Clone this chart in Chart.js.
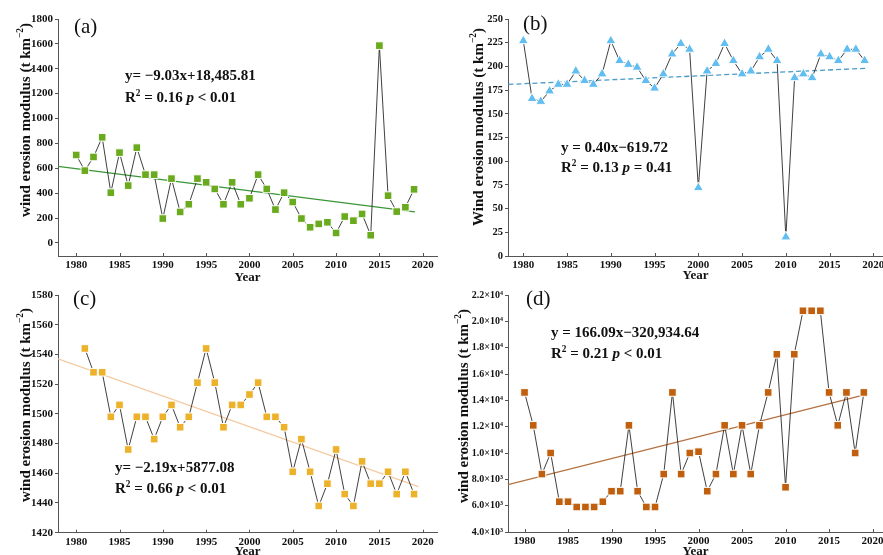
<!DOCTYPE html>
<html>
<head>
<meta charset="utf-8">
<script src="https://cdn.jsdelivr.net/npm/chart.js@4.4.1/dist/chart.umd.min.js"></script>
<style>
  body { margin: 0; background: #fff; width: 883px; height: 555px; position: relative; overflow: hidden; }
  canvas { position: absolute; }
</style>
</head>
<body>
<canvas id="chart-a" width="440" height="285" style="left:0;top:0"></canvas>
<canvas id="chart-b" width="443" height="285" style="left:440px;top:0"></canvas>
<canvas id="chart-c" width="440" height="270" style="left:0;top:285px"></canvas>
<canvas id="chart-d" width="443" height="270" style="left:440px;top:285px"></canvas>
<script>
// Years 1980 - 2019
const years = [1980,1981,1982,1983,1984,1985,1986,1987,1988,1989,
               1990,1991,1992,1993,1994,1995,1996,1997,1998,1999,
               2000,2001,2002,2003,2004,2005,2006,2007,2008,2009,
               2010,2011,2012,2013,2014,2015,2016,2017,2018,2019];

// wind erosion modulus (t km-2)
const erosionA = [707,581,691,849,404,726,461,766,549,549,
                  196,517,249,311,517,487,434,311,487,311,
                  359,549,434,268,404,329,196,126,153,166,
                  80,212,179,233,62,1586,380,252,287,431];
const erosionB = [227,166,163,174,181,181,195,185,181,192,
                  227,206,202,199,185,177,192,213,224,218,
                  72,195,203,224,206,192,195,210,218,206,
                  20,188,192,188,213,210,206,218,218,206];
const erosionC = [null,1544,1528,1528,1498,1506,1476,1498,1498,1483,
                  1498,1506,1491,1498,1521,1544,1521,1491,1506,1506,
                  1513,1521,1498,1498,1491,1461,1483,1461,1438,1453,
                  1476,1446,1438,1468,1453,1453,1461,1446,1461,1446];
const erosionD = [14600,12100,8400,10000,6300,6300,5900,5900,5900,6300,
                  7100,7100,12100,7100,5900,5900,8400,14600,8400,10000,
                  10100,7100,8400,12100,8400,12100,8400,12100,14600,17500,
                  7400,17500,20800,20800,20800,14600,12100,14600,10000,14600];

// fitted trend lines (start / end points as drawn)
const trendA = [[1977.9, 616], [2019.1, 249]];
const trendB = [[1978.3, 181], [2019.1, 198]];
const trendC = [[1977.9, 1537], [2019.5, 1451]];
const trendD = [[1978.1, 7590], [2019.4, 14470]];

const serif = '"Liberation Serif", "Times New Roman", serif';

// draw a run of text pieces (superscript / italic) starting at x on a baseline
function drawRuns(ctx, runs, x, base, size) {
  runs.forEach(r => {
    const s = r.sup ? size * 0.62 : size;
    ctx.font = (r.it ? 'italic ' : '') + 'bold ' + s + 'px ' + serif;
    ctx.fillText(r.t, x, r.sup ? base - size * 0.42 : base);
    x += ctx.measureText(r.t).width;
  });
  return x;
}
function runsWidth(ctx, runs, size) {
  let w = 0;
  runs.forEach(r => {
    const s = r.sup ? size * 0.62 : size;
    ctx.font = (r.it ? 'italic ' : '') + 'bold ' + s + 'px ' + serif;
    w += ctx.measureText(r.t).width;
  });
  return w;
}

const panelText = {
  id: 'panelText',
  afterDraw(chart, args, o) {
    const ctx = chart.ctx;
    ctx.save();
    ctx.fillStyle = '#111';
    ctx.textBaseline = 'alphabetic';

    // inward tick marks on the year axis
    const xs = chart.scales.x, area = chart.chartArea;
    ctx.strokeStyle = '#555';
    ctx.lineWidth = 1;
    xs.ticks.forEach(t => {
      const px = Math.round(xs.getPixelForValue(t.value)) + 0.5;
      ctx.beginPath();
      ctx.moveTo(px, area.bottom);
      ctx.lineTo(px, area.bottom - 3);
      ctx.stroke();
    });

    // panel letter
    ctx.font = '21px ' + serif;
    ctx.fillText(o.letter, o.letterAt[0], o.letterAt[1] + 7);

    // regression equation
    o.lines.forEach((runs, i) => {
      drawRuns(ctx, runs, o.eqAt[0], o.eqAt[1] + i * o.gap + 5, 15);
    });

    // y axis title
    const size = 15;
    const w = runsWidth(ctx, o.yTitle, size);
    ctx.translate(o.yTitleAt[0], o.yTitleAt[1]);
    ctx.rotate(-Math.PI / 2);
    drawRuns(ctx, o.yTitle, -w / 2, size * 0.3, size);
    ctx.restore();
  }
};

function yearLabel(v) { return String(v); }

function makePanel(id, cfg) {
  const ctx = document.getElementById(id).getContext('2d');
  const series = years.map((yr, i) => ({ x: yr, y: cfg.values[i] }));
  return new Chart(ctx, {
    type: 'scatter',
    data: {
      datasets: [
        {
          data: series,
          showLine: true,
          borderColor: '#2a2a2a',
          borderWidth: 0.9,
          pointStyle: cfg.marker,
          pointRadius: cfg.radius,
          pointBackgroundColor: cfg.colour,
          pointBorderColor: '#ffffff',
          pointBorderWidth: 1,
          pointHoverRadius: cfg.radius
        },
        {
          data: cfg.trend.map(p => ({ x: p[0], y: p[1] })),
          showLine: true,
          borderColor: cfg.trendColour,
          borderWidth: 1.3,
          borderDash: cfg.dash || [],
          pointRadius: 0
        }
      ]
    },
    options: {
      responsive: false,
      animation: false,
      events: [],
      layout: { autoPadding: false, padding: { top: cfg.padTop, right: cfg.padRight, left: 0, bottom: 0 } },
      scales: {
        x: {
          type: 'linear',
          min: cfg.xMin,
          max: cfg.xMax,
          afterFit: s => { s.height = cfg.xHeight; s.paddingLeft = 0; s.paddingRight = 0; },
          grid: { display: false, drawTicks: false },
          border: { display: true, color: '#555', width: 1 },
          ticks: {
            stepSize: 5, includeBounds: false, autoSkip: false, maxRotation: 0,
            padding: 3, color: '#111',
            font: { family: serif, size: 11, weight: 'bold' },
            callback: yearLabel
          },
          title: {
            display: true, text: 'Year', color: '#111',
            padding: { top: 0, bottom: cfg.yearPad },
            font: { family: serif, size: 13, weight: 'bold' }
          }
        },
        y: {
          min: cfg.yMin,
          max: cfg.yMax,
          afterFit: s => { s.width = cfg.yWidth; s.paddingTop = 0; s.paddingBottom = 0; },
          grid: { display: true, drawOnChartArea: false, drawTicks: true, tickLength: 3, color: '#555' },
          border: { display: true, color: '#555', width: 1 },
          ticks: {
            stepSize: cfg.yStep, includeBounds: false, padding: 2, color: '#111',
            font: { family: serif, size: cfg.yFont, weight: 'bold' },
            callback: cfg.yLabel || (v => String(v))
          }
        }
      },
      plugins: {
        legend: { display: false },
        tooltip: { enabled: false },
        panelText: cfg.text
      }
    },
    plugins: [panelText]
  });
}

const titleLower = [{ t: 'wind erosion modulus (t km' }, { t: '\u22122', sup: true }, { t: ')' }];
const titleUpper = [{ t: 'Wind erosion modulus (t km' }, { t: '\u22122', sup: true }, { t: ')' }];

makePanel('chart-a', {
  values: erosionA, trend: trendA, marker: 'rect', radius: 5.4,
  colour: '#6aaa1e', trendColour: '#3a9636',
  xMin: 1977.9, xMax: 2021.65, yMin: -105, yMax: 1800, yStep: 200, yFont: 11,
  padTop: 19, padRight: 3, yWidth: 58, xHeight: 29, yearPad: 0,
  text: {
    letter: '(a)', letterAt: [74, 26], eqAt: [125, 75], gap: 22,
    lines: [
      [{ t: 'y= \u22129.03x+18,485.81' }],
      [{ t: 'R' }, { t: '2', sup: true }, { t: ' = 0.16 ' }, { t: 'p', it: true }, { t: ' < 0.01' }]
    ],
    yTitle: titleLower, yTitleAt: [25, 120]
  }
});

makePanel('chart-b', {
  values: erosionB, trend: trendB, marker: 'triangle', radius: 5.8,
  colour: '#62bdf0', trendColour: '#4a9bc6', dash: [5, 3],
  xMin: 1978.25, xMax: 2021.1, yMin: 0, yMax: 250, yStep: 25, yFont: 10.5,
  padTop: 19, padRight: 0, yWidth: 68, xHeight: 29, yearPad: 2,
  text: {
    letter: '(b)', letterAt: [83, 23], eqAt: [121, 147], gap: 20,
    lines: [
      [{ t: 'y = 0.40x\u2212619.72' }],
      [{ t: 'R' }, { t: '2', sup: true }, { t: ' = 0.13 ' }, { t: 'p', it: true }, { t: ' = 0.41' }]
    ],
    yTitle: titleUpper, yTitleAt: [38, 127]
  }
});

makePanel('chart-c', {
  values: erosionC, trend: trendC, marker: 'rect', radius: 5.4,
  colour: '#edb22c', trendColour: '#f4caa0',
  xMin: 1977.9, xMax: 2021.65, yMin: 1420, yMax: 1580, yStep: 20, yFont: 11,
  padTop: 10, padRight: 3, yWidth: 58, xHeight: 22.3, yearPad: -4,
  text: {
    letter: '(c)', letterAt: [73, 13], eqAt: [115, 182], gap: 21,
    lines: [
      [{ t: 'y= \u22122.19x+5877.08' }],
      [{ t: 'R' }, { t: '2', sup: true }, { t: ' = 0.66 ' }, { t: 'p', it: true }, { t: ' < 0.01' }]
    ],
    yTitle: titleLower, yTitleAt: [25, 120]
  }
});

makePanel('chart-d', {
  values: erosionD, trend: trendD, marker: 'rect', radius: 5.4,
  colour: '#c0600f', trendColour: '#b47040',
  xMin: 1978.1, xMax: 2021.2, yMin: 4000, yMax: 22000, yStep: 2000, yFont: 10,
  padTop: 10, padRight: 0, yWidth: 68, xHeight: 23, yearPad: -4,
  yLabel: v => v >= 10000 ? (v / 10000).toFixed(1) + '\u00d710\u2074' : (v / 1000).toFixed(1) + '\u00d710\u00b3',
  text: {
    letter: '(d)', letterAt: [86, 13], eqAt: [111, 47], gap: 21,
    lines: [
      [{ t: 'y = 166.09x\u2212320,934.64' }],
      [{ t: 'R' }, { t: '2', sup: true }, { t: ' = 0.21 ' }, { t: 'p', it: true }, { t: ' < 0.01' }]
    ],
    yTitle: titleLower, yTitleAt: [23, 121]
  }
});
</script>
</body>
</html>
